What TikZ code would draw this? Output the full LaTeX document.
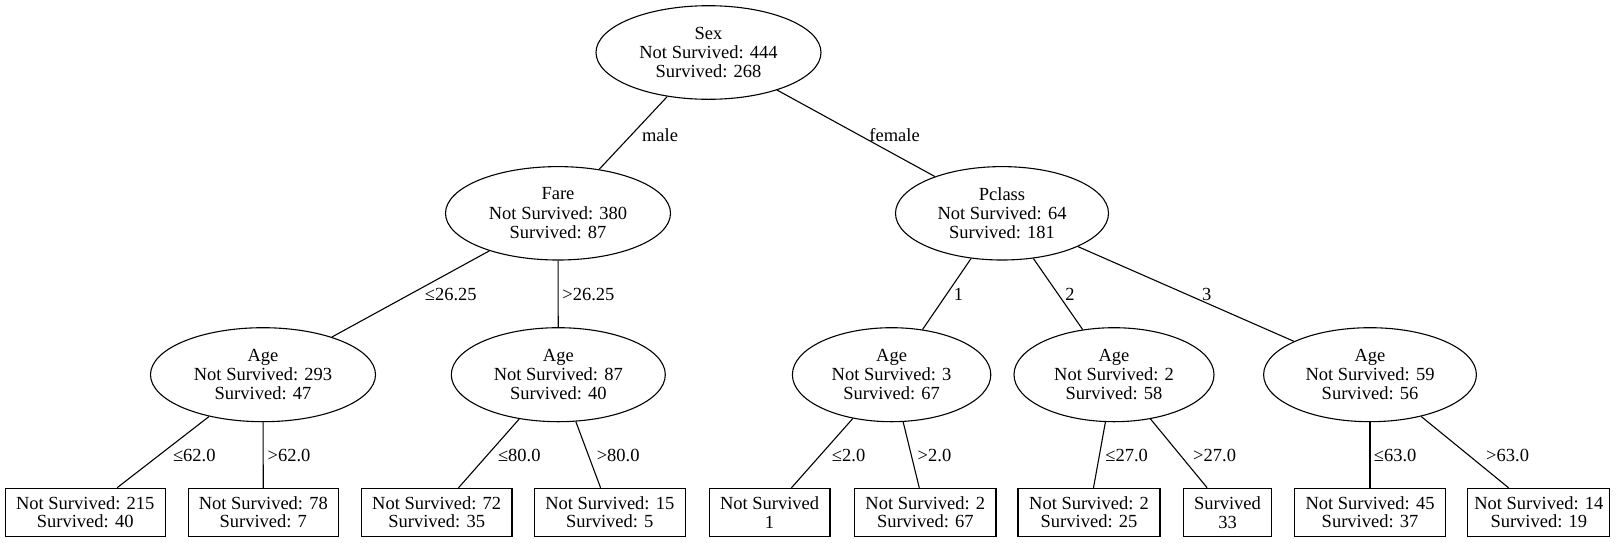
\documentclass[tikz,border=0pt]{standalone}
\usepackage{fontspec}
\setmainfont{Liberation Serif}
\usetikzlibrary{shapes.geometric}
\tikzset{
  every node/.style={font=\fontsize{18.5}{19.3}\selectfont},
  split/.style={ellipse, draw, line width=1.1pt, inner sep=0pt, align=center},
  leaf/.style={rectangle, draw, line width=1.1pt, inner sep=0pt, align=center, minimum height=48.4, font=\fontsize{18.5}{18.4}\selectfont},
  lbl/.style={inner sep=0pt},
  edge/.style={line width=1.1pt}
}
\begin{document}
\begin{tikzpicture}[x=1pt,y=-1pt]
\useasboundingbox (0,0) rectangle (1624,542);
% split nodes
\node[split, minimum width=225, minimum height=93.6] (sex) at (708.5,52.5) {Sex\\Not Survived: 444\\Survived: 268};
\node[split, minimum width=225, minimum height=93.4] (fare) at (558,213.3) {Fare\\Not Survived: 380\\Survived: 87};
\node[split, minimum width=213, minimum height=93.4] (pclass) at (1002,213.3) {Pclass\\Not Survived: 64\\Survived: 181};
\node[split, minimum width=225, minimum height=94] (age1) at (263,374.7) {Age\\Not Survived: 293\\Survived: 47};
\node[split, minimum width=214, minimum height=94] (age2) at (558.3,374.7) {Age\\Not Survived: 87\\Survived: 40};
\node[split, minimum width=198.4, minimum height=94] (age3) at (891.6,374.7) {Age\\Not Survived: 3\\Survived: 67};
\node[split, minimum width=200, minimum height=94] (age4) at (1114,374.7) {Age\\Not Survived: 2\\Survived: 58};
\node[split, minimum width=212.8, minimum height=94] (age5) at (1370,374.7) {Age\\Not Survived: 59\\Survived: 56};
% leaves
\node[leaf, minimum width=160] (l1) at (85.2,512.5) {Not Survived: 215\\Survived: 40};
\node[leaf, minimum width=150] (l2) at (263.3,512.5) {Not Survived: 78\\Survived: 7};
\node[leaf, minimum width=150.6] (l3) at (436.7,512.5) {Not Survived: 72\\Survived: 35};
\node[leaf, minimum width=150.6] (l4) at (609.8,512.5) {Not Survived: 15\\Survived: 5};
\node[leaf, minimum width=120.8] (l5) at (769.6,512.5) {Not Survived\\1};
\node[leaf, minimum width=141.3] (l6) at (925.3,512.5) {Not Survived: 2\\Survived: 67};
\node[leaf, minimum width=142] (l7) at (1089,512.5) {Not Survived: 2\\Survived: 25};
\node[leaf, minimum width=87.8] (l8) at (1227.5,512.5) {Survived\\33};
\node[leaf, minimum width=150.8] (l9) at (1370,512.5) {Not Survived: 45\\Survived: 37};
\node[leaf, minimum width=142] (l10) at (1538.8,512.5) {Not Survived: 14\\Survived: 19};
% edges
\draw[edge] (sex) -- (fare);
\draw[edge] (sex) -- (pclass);
\draw[edge] (fare) -- (age1);
\draw[edge] (fare) -- (age2);
\draw[edge] (pclass) -- (age3);
\draw[edge] (pclass) -- (age4);
\draw[edge] (pclass) -- (age5);
\draw[edge] (age1) -- (l1);
\draw[edge] (age1) -- (l2);
\draw[edge] (age2) -- (l3);
\draw[edge] (age2) -- (l4);
\draw[edge] (age3) -- (l5);
\draw[edge] (age3) -- (l6);
\draw[edge] (age4) -- (l7);
\draw[edge] (age4) -- (l8);
\draw[edge] (age5) -- (l9);
\draw[edge] (age5) -- (l10);
% edge labels
\node[lbl] (e1) at (660,135) {male};
\node[lbl] (e2) at (894.6,135) {female};
\node[lbl] (e3) at (450.8,294.3) {≤26.25};
\node[lbl] (e4) at (588.4,294.3) {>26.25};
\node[lbl] (e5) at (958.5,294.3) {1};
\node[lbl] (e6) at (1070,294.3) {2};
\node[lbl] (e7) at (1206.8,294.3) {3};
\node[lbl] (e8) at (194.3,455) {≤62.0};
\node[lbl] (e9) at (289,455) {>62.0};
\node[lbl] (e10) at (519.3,455) {≤80.0};
\node[lbl] (e11) at (618.2,455) {>80.0};
\node[lbl] (e12) at (848.6,455) {≤2.0};
\node[lbl] (e13) at (934.5,455) {>2.0};
\node[lbl] (e14) at (1126.6,455) {≤27.0};
\node[lbl] (e15) at (1214.6,455) {>27.0};
\node[lbl] (e16) at (1395.1,455) {≤63.0};
\node[lbl] (e17) at (1507.6,455) {>63.0};
\end{tikzpicture}
\end{document}
